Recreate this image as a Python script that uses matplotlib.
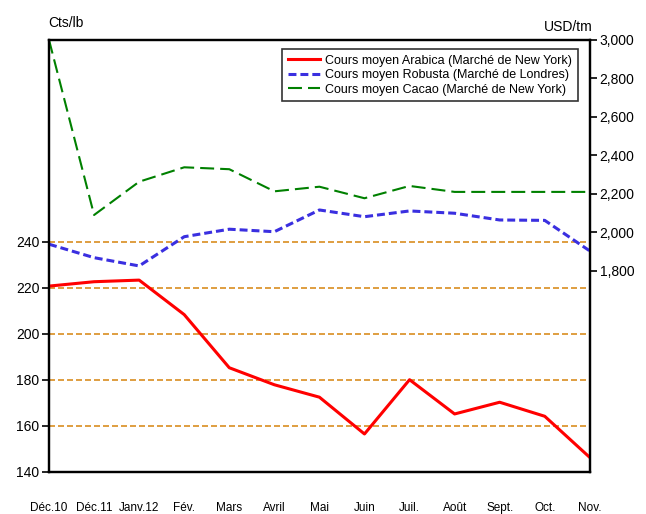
import matplotlib
matplotlib.use("Agg")
import matplotlib.pyplot as plt

plt.rcParams['font.family'] = ['Liberation Sans Narrow', 'Liberation Sans', 'DejaVu Sans']

# Mois
mois = ["Déc.10", "Déc.11", "Janv.12", "Fév.", "Mars", "Avril", "Mai",
        "Juin", "Juil.", "Août", "Sept.", "Oct.", "Nov."]

# Cts/lb (axe gauche)
arabica = [220.7, 222.6, 223.3, 208.3, 185.2, 177.8, 172.4,
           156.4, 180.0, 165.1, 170.2, 164.1, 146.2]

# USD/tm (axe droit)
robusta = [1938, 1868, 1825, 1977, 2016, 2003, 2116,
           2081, 2111, 2099, 2064, 2062, 1903]
cacao = [3000, 2090, 2263, 2338, 2328, 2213, 2237,
         2177, 2241, 2210, 2210, 2210, 2210]

ticks_gauche = [140, 160, 180, 200, 220, 240]
ticks_droite = [1800, 2000, 2200, 2400, 2600, 2800, 3000]
grille = [160, 180, 200, 220, 240]

fig = plt.figure(figsize=(6.46, 5.14), dpi=100)
ax = fig.add_axes([0.0759, 0.0823, 0.8371, 0.8399])
ax2 = ax.twinx()

x = list(range(len(mois)))

for g in grille:
    ax.axhline(g, color='#d98e20', lw=1.2, dashes=(3.6, 1.8), zorder=1)

l1, = ax.plot(x, arabica, color='#ff0000', lw=2.2, zorder=3,
              label="Cours moyen Arabica (Marché de New York)")
l2, = ax2.plot(x, robusta, color='#3a2fe0', lw=2.2, dashes=(2.6, 1.3),
               label="Cours moyen Robusta (Marché de Londres)")
l3, = ax2.plot(x, cacao, color='#008000', lw=1.5, dashes=(6.7, 2.9),
               label="Cours moyen Cacao (Marché de New York)")

ax.set_xlim(0, 12)
ax.set_ylim(140, 327.7)
ax2.set_ylim(755, 3000)

ax.set_yticks(ticks_gauche)
ax.set_yticklabels([str(t) for t in ticks_gauche], fontsize=10)
ax2.set_yticks(ticks_droite)
ax2.set_yticklabels(["{:,}".format(t) for t in ticks_droite], fontsize=10)
ax.tick_params(axis='y', direction='out', length=5, width=1.2, pad=2)
ax2.tick_params(axis='y', direction='out', length=5, width=1.2, pad=2)

ax.set_xticks(x)
ax.set_xticklabels(mois, fontsize=8.5)
ax.tick_params(axis='x', length=0, pad=22)

for a in (ax, ax2):
    for s in a.spines.values():
        s.set_linewidth(1.6)
        s.set_color('black')

fig.text(0.074, 0.955, "Cts/lb", fontsize=10, ha='left', va='center')
fig.text(0.918, 0.948, "USD/tm", fontsize=10, ha='right', va='center')

leg = ax2.legend(handles=[l1, l2, l3], loc='upper right',
                 bbox_to_anchor=(0.978, 0.979), borderaxespad=0,
                 fontsize=9, frameon=True,
                 fancybox=False, edgecolor='black', handlelength=2.6,
                 handletextpad=0.4, borderpad=0.45, labelspacing=0.2)
leg.get_frame().set_linewidth(1.2)

fig.savefig("out.png", dpi=100, facecolor='white')
